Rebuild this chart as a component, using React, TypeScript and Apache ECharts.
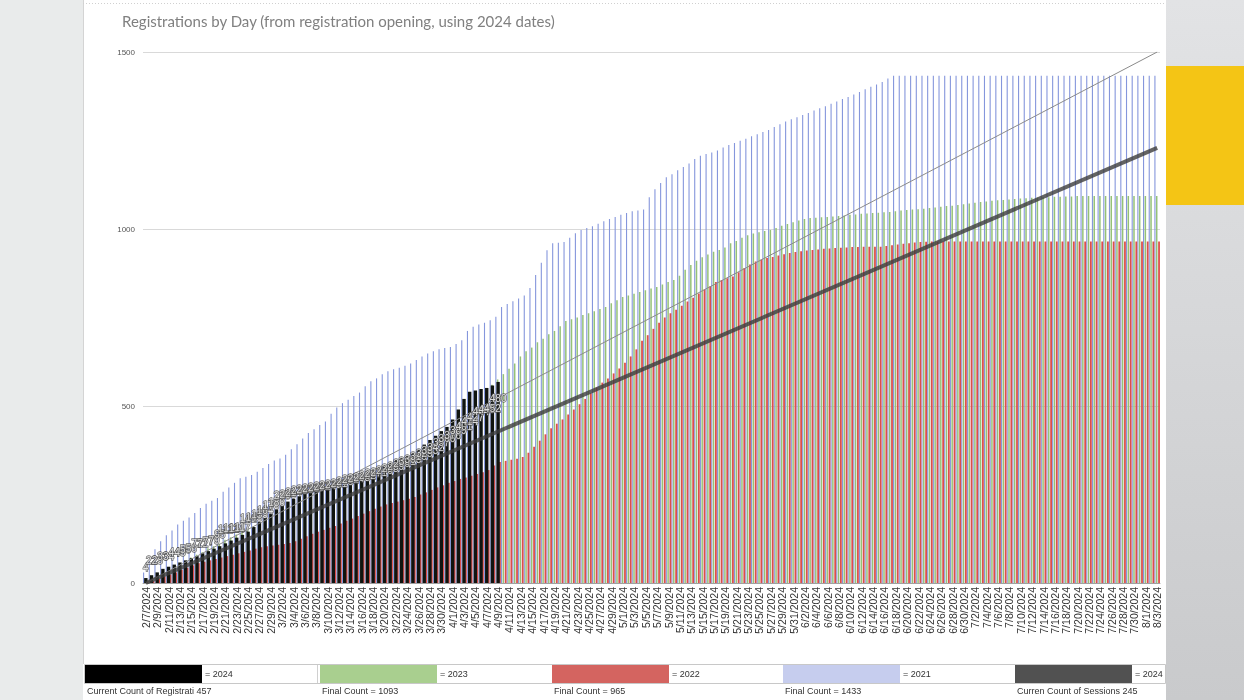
import React, { useEffect, useRef } from "react";
import * as echarts from "echarts";

// ---------- categories (daily, 2/7/2024 .. 8/3/2024) ----------
const FIRST_DAY = { year: 2024, month: 2, day: 7 };
const DAY_COUNT = 179;
const categories: string[] = Array.from({ length: DAY_COUNT }, (_, i) => {
  const d = new Date(FIRST_DAY.year, FIRST_DAY.month - 1, FIRST_DAY.day + i);
  return `${d.getMonth() + 1}/${d.getDate()}/${d.getFullYear()}`;
});

// ---------- series values ----------
const regs2024 = [
  14, 22, 30, 40, 46, 52, 58, 64, 70, 76,
  84, 90, 97, 104, 112, 120, 128, 136, 145, 158,
  172, 185, 196, 208, 220, 230, 238, 245, 252, 256,
  259, 262, 265, 268, 272, 277, 283, 289, 294, 299,
  305, 316, 328, 340, 348, 353, 359, 366, 378, 391,
  404, 416, 429, 441, 462, 490, 520, 540, 544, 548,
  551, 558, 568,
];

const labels2024 = [
  4, 22, 23, 33, 34, 44, 45, 55, 56, 72,
  72, 77, 79, 95, 111, 112, 114, 117, 141, 145,
  153, 164, 178, 186, 205, 209, 214, 220, 223, 226,
  229, 231, 234, 238, 241, 246, 251, 254, 258, 262,
  267, 271, 276, 283, 289, 296, 301, 308, 316, 325,
  333, 342, 357, 366, 376, 389, 401, 414, 427, 444,
  449, 452, 480,
];

const regs2023 = [
  6, 13, 24, 31, 37, 48, 55, 61, 72, 80,
  87, 98, 104, 111, 122, 129, 137, 148, 153, 160,
  171, 177, 185, 196, 202, 209, 220, 226, 233, 244,
  240, 246, 252, 259, 265, 270, 276, 283, 289, 294,
  300, 306, 313, 320, 327, 335, 341, 350, 358, 366,
  375, 386, 398, 410, 425, 440, 458, 478, 500, 520,
  540, 560,
  575, 590, 605, 620, 640, 655, 665, 680, 690, 703,
  712, 725, 740,
  745, 750, 757, 762, 768, 774, 780, 790, 799, 808,
  812, 817, 822, 827, 832, 836, 843, 850, 856, 868,
  885, 898, 910, 920, 928, 936, 941, 948, 960, 966,
  975, 982, 987, 991, 994, 997, 1003, 1009, 1014, 1019,
  1024, 1028, 1031, 1032, 1033, 1034, 1035, 1037, 1038, 1040,
  1041, 1043, 1044, 1045, 1046, 1047, 1048, 1050, 1052, 1054,
  1055, 1056, 1057, 1059, 1061, 1063, 1065, 1066, 1068, 1070,
  1072, 1074, 1076, 1078, 1080, 1081, 1082, 1083, 1085, 1086,
  1087, 1088, 1089, 1090, 1090, 1091, 1091, 1092, 1092, 1093,
  1093, 1093, 1093, 1093, 1093, 1093, 1093, 1093, 1093, 1093,
  1093, 1093, 1093, 1093,
];

const regs2022 = [
  2, 6, 12, 18, 24, 30, 37, 43, 50, 56,
  60, 64, 68, 72, 76, 80, 84, 88, 92, 97,
  101, 104, 106, 108, 110, 113, 118, 125, 132, 139,
  145, 150, 156, 161, 168, 176, 182, 189, 196, 203,
  210, 216, 222, 226, 230, 234, 238, 243, 250, 256,
  263, 270, 276, 283, 288, 294, 298, 303, 308, 313,
  319, 332,
  342, 345, 348, 351, 356, 368, 385, 402,
  420, 437, 450, 462, 476, 490, 505, 520, 536, 552,
  566, 578, 592, 606, 622, 640, 660, 684, 700, 718,
  735, 750, 762, 772, 783, 795, 806, 818, 829, 838,
  850, 856, 861, 866, 878, 890, 900, 908, 914, 918,
  921, 925, 929, 932, 935, 937, 939, 941, 942, 944,
  945, 946, 947, 948, 949, 949, 950, 950, 950, 950,
  952, 954, 956, 958, 960, 962, 963, 964, 965, 965,
  965, 965, 965, 965, 965, 965, 965, 965, 965, 965,
  965, 965, 965, 965, 965, 965, 965, 965, 965, 965,
  965, 965, 965, 965, 965, 965, 965, 965, 965, 965,
  965, 965, 965, 965, 965, 965, 965, 965, 965,
];

const regs2021 = [
  30, 62, 95, 118, 135, 148, 165, 176, 185, 198,
  212, 224, 232, 240, 258, 270, 283, 296, 300, 305,
  314, 325, 336, 346, 352, 362, 378, 392, 408, 424,
  434, 446, 456, 478, 496, 508, 518, 528, 538, 556,
  570, 578, 590, 598, 604, 608, 614, 620, 630, 640,
  648, 655, 660, 664, 667, 675, 686, 712, 724, 730,
  735, 742, 752, 780, 788, 796, 804, 812, 833, 870,
  905, 940, 960, 961, 963, 975, 988, 997, 1003, 1008,
  1015, 1022, 1028, 1034, 1040, 1045, 1050, 1052, 1055, 1090,
  1112, 1130, 1146, 1155, 1166, 1175, 1185, 1198, 1207, 1212,
  1216, 1222, 1230, 1237, 1243, 1249, 1255, 1262, 1268, 1274,
  1280, 1288, 1296, 1304, 1310, 1316, 1322, 1328, 1335, 1341,
  1347, 1354, 1360, 1367, 1373, 1380, 1387, 1395, 1402, 1408,
  1415, 1425, 1433, 1433, 1433, 1433, 1433, 1433, 1433, 1433,
  1433, 1433, 1433, 1433, 1433, 1433, 1433, 1433, 1433, 1433,
  1433, 1433, 1433, 1433, 1433, 1433, 1433, 1433, 1433, 1433,
  1433, 1433, 1433, 1433, 1433, 1433, 1433, 1433, 1433, 1433,
  1433, 1433, 1433, 1433, 1433, 1433, 1433, 1433, 1433,
];

// trend lines: value at first day, value at last day
const sessionsTrend = [0, 1229];
const registrationsTrend = [0, 1500];

const yTicks = [0, 500, 1000, 1500];

const TITLE = "Registrations by Day (from registration opening, using 2024 dates)";
const legendKeys = ["= 2024", "= 2023", "= 2022", "= 2021", "= 2024"];
const legendNotes = [
  "Current Count of Registrati 457",
  "Final Count = 1093",
  "Final Count = 965",
  "Final Count = 1433",
  "Curren Count of Sessions 245",
];
const legendSwatchColors = ["#000000", "#a9cf8f", "#d46460", "#c6cdee", "#515151"];

// ---------- layout / style ----------
const W = 1244;
const H = 700;
const LEGEND_X = [85, 320, 552, 783, 1015];
const SWATCH_W = 117;
const SANS = "'Liberation Sans', Arial, sans-serif";

function endpointsSeries(pair: number[]) {
  return categories.map((_, i) =>
    i === 0 ? pair[0] : i === categories.length - 1 ? pair[1] : null
  );
}

export default function App() {
  const ref = useRef<HTMLDivElement>(null);

  useEffect(() => {
    if (!ref.current) return;
    const chart = echarts.init(ref.current, undefined, { renderer: "svg", width: W, height: H });

    const graphics: any[] = [
      { type: "rect", z: -100, shape: { x: 0, y: 0, width: 83, height: H }, style: { fill: "#e9ebeb" } },
      { type: "rect", z: -100, shape: { x: 83, y: 0, width: 1083, height: H }, style: { fill: "#ffffff" } },
      {
        type: "rect", z: -100, shape: { x: 1166, y: 0, width: 78, height: H },
        style: {
          fill: new echarts.graphic.LinearGradient(0, 0, 0, 1, [
            { offset: 0, color: "#e2e3e5" },
            { offset: 0.35, color: "#d9dadc" },
            { offset: 1, color: "#c9cacc" },
          ]),
        },
      },
      { type: "rect", z: -90, shape: { x: 1166, y: 66, width: 78, height: 139 }, style: { fill: "#f4c515" } },
      { type: "line", z: -90, shape: { x1: 83.5, y1: 0, x2: 83.5, y2: 664 }, style: { stroke: "#d4d4d4", lineWidth: 1 } },
      { type: "line", z: -90, shape: { x1: 83, y1: 3.5, x2: 1166, y2: 3.5 }, style: { stroke: "#d0d0d0", lineWidth: 1, lineDash: [1, 2] } },
      { type: "rect", z: 50, shape: { x: 84.5, y: 664.5, width: 1081, height: 19 }, style: { fill: "none", stroke: "#c8c8c8", lineWidth: 1 } },
    ];

    legendKeys.forEach((k, idx) => {
      const x = LEGEND_X[idx];
      graphics.push({
        type: "rect", z: 51,
        shape: { x, y: 665, width: SWATCH_W, height: 18 },
        style: { fill: legendSwatchColors[idx] },
      });
      graphics.push({
        type: "line", z: 51,
        shape: { x1: x + SWATCH_W + 115.5, y1: 665, x2: x + SWATCH_W + 115.5, y2: 683 },
        style: { stroke: "#d0d0d0", lineWidth: 1 },
      });
      graphics.push({
        type: "text", z: 52, x: x + SWATCH_W + 3, y: 674,
        style: { text: k, fill: "#333", font: `9px ${SANS}`, verticalAlign: "middle" },
      });
      graphics.push({
        type: "text", z: 52, x: x + 2, y: 691,
        style: { text: legendNotes[idx], fill: "#333", font: `9px ${SANS}`, verticalAlign: "middle" },
      });
    });

    const option: any = {
      animation: false,
      title: {
        text: TITLE,
        left: 117,
        top: 8,
        textStyle: { fontFamily: "Lato", fontSize: 15, fontWeight: "normal", color: "#808080" },
      },
      grid: { left: 143, right: 84, top: 52, bottom: 117, containLabel: false },
      xAxis: [
        {
          type: "category",
          data: categories,
          boundaryGap: true,
          axisTick: { show: false },
          axisLine: { lineStyle: { color: "#a0a0a0", width: 1 } },
          axisLabel: {
            rotate: 90,
            interval: 1,
            fontSize: 10.5,
            fontFamily: "'Liberation Sans Narrow', 'Liberation Sans', Arial, sans-serif",
            color: "#333",
            margin: 4,
          },
        },
        {
          type: "category",
          data: categories,
          boundaryGap: true,
          show: false,
        },
      ],
      yAxis: {
        type: "value",
        min: yTicks[0],
        max: yTicks[yTicks.length - 1],
        interval: yTicks[1] - yTicks[0],
        axisLine: { show: false },
        axisTick: { show: false },
        axisLabel: {
          fontSize: 8, color: "#555", margin: 8, fontFamily: SANS,
          formatter: (v: number) => String(v),
        },
        splitLine: { lineStyle: { color: "#d9d9d9", width: 1 } },
      },
      series: [
        {
          name: "2021",
          type: "bar",
          xAxisIndex: 0,
          data: regs2021,
          barWidth: 1.1,
          barGap: "45%",
          itemStyle: { color: "#8596dc" },
          z: 2,
        },
        {
          name: "2023",
          type: "bar",
          xAxisIndex: 0,
          data: regs2023,
          barWidth: 1.5,
          barGap: "45%",
          itemStyle: { color: "#95c277" },
          z: 2,
        },
        {
          name: "2022",
          type: "bar",
          xAxisIndex: 0,
          data: regs2022,
          barWidth: 1.8,
          barGap: "45%",
          itemStyle: { color: "#dc4f4b" },
          z: 2,
        },
        {
          name: "2024",
          type: "bar",
          xAxisIndex: 1,
          data: regs2024,
          barWidth: 3.4,
          itemStyle: { color: "#101410" },
          z: 3,
        },
        {
          name: "2024 registrations trend",
          type: "line",
          xAxisIndex: 0,
          data: endpointsSeries(registrationsTrend),
          connectNulls: true,
          showSymbol: false,
          symbol: "none",
          lineStyle: { color: "#8a8a8a", width: 1 },
          z: 5,
        },
        {
          name: "2024 sessions trend",
          type: "line",
          xAxisIndex: 0,
          data: endpointsSeries(sessionsTrend),
          connectNulls: true,
          showSymbol: false,
          symbol: "none",
          lineStyle: { color: "rgba(60,60,60,0.8)", width: 4 },
          z: 6,
        },
        {
          name: "2024 labels",
          type: "scatter",
          xAxisIndex: 0,
          data: labels2024,
          symbolSize: 1,
          itemStyle: { color: "transparent" },
          label: {
            show: true,
            position: "top",
            distance: 9,
            fontSize: 10,
            fontFamily: SANS,
            color: "#ffffff",
            textBorderColor: "#4a4a4a",
            textBorderWidth: 1.4,
            formatter: "{c}",
          },
          z: 7,
        },
      ],
      graphic: { elements: graphics },
    };

    chart.setOption(option);
    return () => chart.dispose();
  }, []);

  return (
    <div
      ref={ref}
      style={{ position: "fixed", left: 0, top: 0, width: W, height: H, overflow: "hidden" }}
    />
  );
}
